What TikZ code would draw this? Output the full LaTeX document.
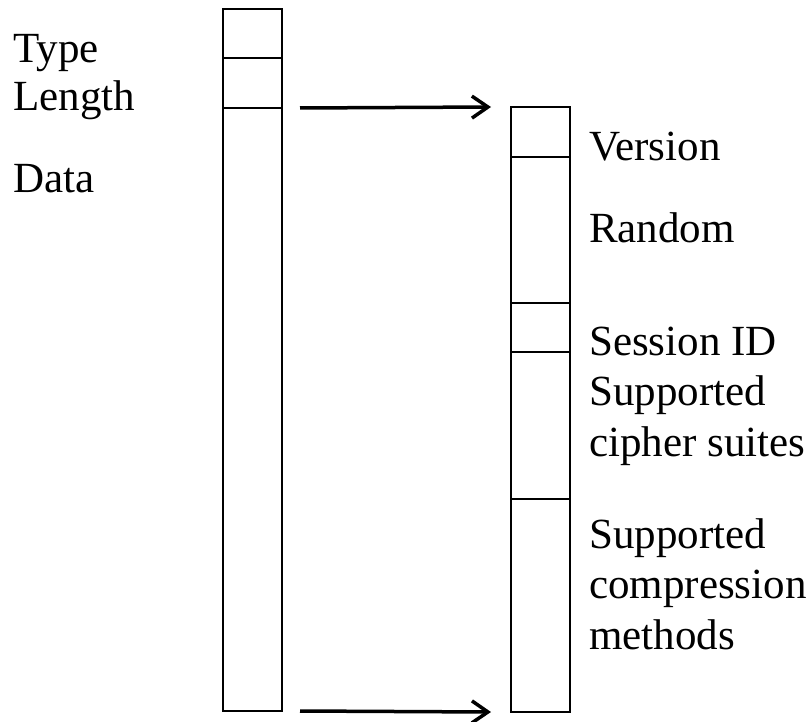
\documentclass[tikz,border=0pt]{standalone}
\usepackage{fontspec}
\setmainfont{Liberation Serif}
\usetikzlibrary{arrows.meta}
\tikzset{field/.style={draw, line width=2pt, minimum width=59pt, inner sep=0pt, outer sep=0pt, anchor=north},
 lbl/.style={anchor=base west, align=left, inner sep=0pt, font=\fontsize{43}{50.5}\selectfont},
 ptr/.style={line width=3.5pt, -{Straight Barb[length=16pt,width=22pt]}}}

\begin{document}
\begin{tikzpicture}[x=1pt,y=-1pt]
\useasboundingbox (0,0) rectangle (808,722);
% record on the left
\node[field, minimum height=48.5pt] (type) at (252.5,9.5) {};
\node[field, minimum height=50pt] (len) at (type.south) {};
\node[field, minimum height=603pt] (data) at (len.south) {};
\node[lbl] (ltype) at (13,63) {Type};
\node[lbl] (llen) at (13,111) {Length};
\node[lbl] (ldata) at (13,193) {Data};
% data field on the right
\node[field, minimum height=50pt] (ver) at (540.5,107) {};
\node[field, minimum height=146pt] (rand) at (ver.south) {};
\node[field, minimum height=49pt] (sess) at (rand.south) {};
\node[field, minimum height=147pt] (ciph) at (sess.south) {};
\node[field, minimum height=213pt] (comp) at (ciph.south) {};
\node[lbl] (lver) at (589,161) {Version};
\node[lbl] (lrand) at (589,242) {Random};
\node[lbl] (lsess) at (589,355) {Session ID};
\node[lbl] (lciph) at (589,456) {Supported\\cipher suites};
\node[lbl] (lcomp) at (589,649) {Supported\\compression\\methods};
% arrows
\draw[ptr] ([xshift=18pt]data.north east) -- ([xshift=-20pt]ver.north west);
\draw[ptr] ([xshift=18pt]data.south east) -- ([xshift=-20pt]comp.south west);
\end{tikzpicture}
\end{document}
